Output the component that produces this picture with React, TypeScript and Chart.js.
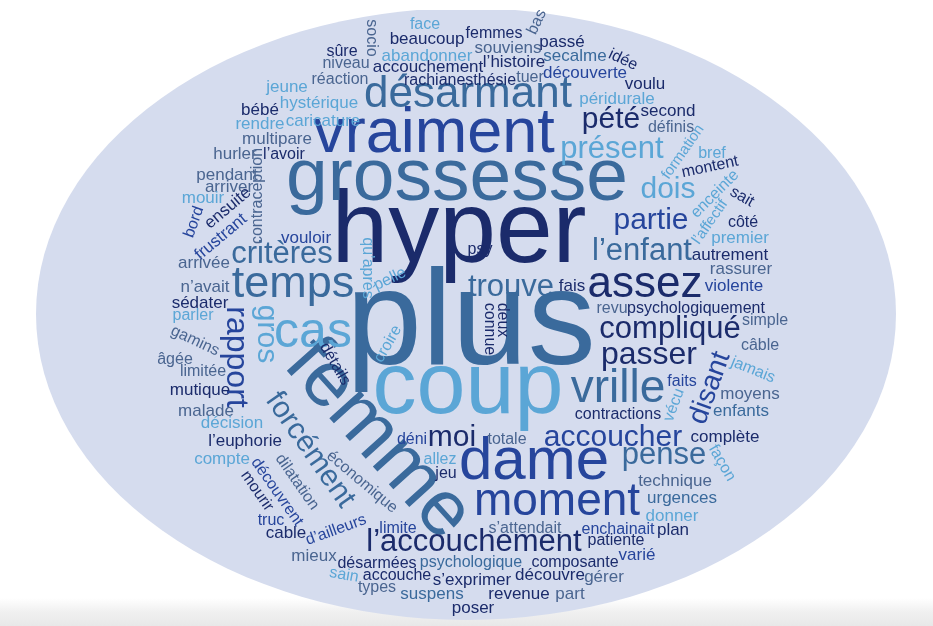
import { useEffect, useRef } from 'react';
import { Chart, registerables } from 'chart.js';

Chart.register(...registerables);

// ---- word cloud data ----
const words = [
  'hyper', 'plus', 'grossesse', 'coup', 'femme', 'vraiment', 'désarmant', 'dame', 'moment', 'temps',
  'assez', 'vrille', 'cas', 'l’accouchement', 'critères', 'trouve', 'l’enfant', 'partie', 'dois', 'présent',
  'pété', 'compliqué', 'passer', 'accoucher', 'pense', 'moi', 'rapport', 'gros', 'forcément', 'disant',
  'socio', 'sûre', 'niveau', 'accouchement', 'jeune', 'réaction', 'bébé', 'hystérique', 'rendre', 'caricature',
  'multipare', 'hurler', 'l’avoir', 'contraception', 'face', 'beaucoup', 'femmes', 'bas', 'abandonner', 'souviens',
  'passé', 'l’histoire', 'secalme', 'idée', 'découverte', 'tuer', 'rachianesthésie', 'voulu', 'péridurale', 'second',
  'définis', 'formation', 'bref', 'montent', 'enceinte', 'sait', 'l’affectif', 'côté', 'premier', 'autrement',
  'rassurer', 'violente', 'psychologiquement', 'revu', 'simple', 'câble', 'jamais', 'faits', 'moyens', 'vécu',
  'enfants', 'contractions', 'complète', 'façon', 'technique', 'urgences', 'donner', 'plan', 'enchainait', 'patiente',
  'varié', 'limite', 's’attendait', 'désarmées', 'psychologique', 'composante', 'accouche', 's’exprimer', 'découvre', 'gérer',
  'types', 'suspens', 'revenue', 'part', 'poser', 'allez', 'jeu', 'déni', 'totale', 'compte',
  'découvrent', 'mourir', 'dilatation', 'économique', 'truc', 'cable', 'd’ailleurs', 'mieux', 'sain', 'parler',
  'gamins', 'âgée', 'limitée', 'mutique', 'malade', 'décision', 'l’euphorie', 'détails', 'croire', 'connue',
  'deux', 'qu’après', 'pelle', 'psy', 'fais', 'pendant', 'arriver', 'mouir', 'ensuite', 'bord',
  'frustrant', 'vouloir', 'arrivée', 'n’avait', 'sédater',
];

const wordX = [
  459, 471, 457, 468, 378, 434, 468, 534, 557, 293,
  645, 618, 313, 474, 282, 511, 642, 651, 668, 612,
  611, 670, 649, 613, 664, 452, 236, 266, 310, 710,
  371, 342, 346, 428, 287, 340, 260, 319, 260, 323,
  277, 235, 284, 258, 425, 427, 494, 537, 427, 508,
  562, 514, 575, 623, 585, 530, 460, 645, 617, 668,
  671, 683, 712, 710, 715, 742, 710, 743, 740, 730,
  741, 734, 696, 612, 765, 760, 753, 682, 750, 674,
  741, 618, 725, 722, 675, 682, 672, 673, 618, 616,
  637, 398, 525, 377, 471, 575, 397, 472, 550, 604,
  377, 432, 519, 570, 473, 440, 446, 412, 507, 222,
  277, 257, 297, 362, 271, 286, 336, 314, 344, 193,
  195, 175, 203, 200, 206, 232, 245, 335, 388, 489,
  502, 367, 390, 480, 572, 227, 229, 203, 228, 194,
  221, 306, 204, 205, 200,
];

const wordY = [
  234, 326, 179, 389, 440, 135, 95, 462, 502, 285,
  285, 389, 333, 542, 254, 287, 251, 221, 190, 149,
  120, 329, 355, 438, 455, 438, 357, 334, 450, 388,
  38, 52, 64, 67, 87, 80, 110, 103, 124, 121,
  139, 154, 155, 196, 25, 39, 34, 22, 56, 48,
  42, 62, 56, 60, 73, 78, 81, 84, 99, 111,
  128, 152, 154, 167, 194, 197, 222, 223, 238, 255,
  269, 286, 309, 309, 321, 346, 370, 382, 394, 405,
  411, 415, 437, 463, 481, 498, 516, 530, 530, 541,
  555, 529, 529, 564, 563, 563, 576, 580, 575, 577,
  588, 594, 594, 594, 608, 460, 474, 440, 440, 459,
  492, 491, 482, 482, 521, 533, 530, 556, 575, 316,
  341, 360, 372, 390, 411, 423, 441, 364, 344, 329,
  320, 268, 279, 250, 286, 175, 187, 198, 208, 222,
  237, 238, 263, 287, 303,
];

// relative weight of each word (rendered as font size in px)
const wordWeight = [
  102, 136, 75, 88, 78, 63, 44, 60, 46, 45,
  44, 46, 50, 31, 31, 31, 31, 30, 30, 31,
  30, 31, 32, 30, 31, 30, 32, 30, 30, 28,
  16, 16, 16, 17, 17, 16, 17, 17, 17, 17,
  17, 17, 16, 16, 16, 17, 16, 16, 17, 17,
  17, 17, 17, 16, 17, 16, 16, 17, 17, 17,
  16, 15, 16, 16, 16, 16, 15, 16, 17, 17,
  17, 17, 16, 16, 16, 16, 16, 16, 17, 16,
  17, 16, 17, 16, 17, 17, 17, 17, 16, 16,
  17, 16, 16, 16, 16, 16, 16, 17, 17, 17,
  16, 17, 17, 17, 17, 16, 16, 16, 16, 17,
  16, 16, 16, 16, 16, 17, 16, 17, 16, 16,
  16, 16, 16, 17, 17, 17, 17, 16, 16, 16,
  16, 16, 16, 16, 17, 17, 17, 17, 17, 16,
  17, 17, 17, 17, 17,
];

// orientation of each word in degrees
const wordAngle = [
  0, 0, 0, 0, 48, 0, 0, 0, 0, 0,
  0, 0, 0, 0, 0, 0, 0, 0, 0, 0,
  0, 0, 0, 0, 0, 0, 90, 90, 55, -70,
  90, 0, 0, 0, 0, 0, 0, 0, 0, 0,
  0, 0, 0, -90, 0, 0, 0, -65, 0, 0,
  0, 0, 0, 25, 0, 0, 0, 0, 0, 0,
  0, -55, 0, -12, -45, 30, -55, 0, 0, 0,
  0, 0, 0, 0, 0, 0, 22, 0, 0, -70,
  0, 0, 0, 60, 0, 0, 0, 0, 0, 0,
  0, 0, 0, 0, 0, 0, 0, 0, 0, 0,
  0, 0, 0, 0, 0, 0, 0, 0, 0, 0,
  55, 55, 55, 40, 0, 0, -20, 0, 10, 0,
  25, 0, 0, 0, 0, 0, 0, 60, -60, 90,
  90, 90, -25, 0, 0, 0, 0, 0, -40, -70,
  -40, 0, 0, 0, 0,
];

// colour group of each word (index into palette)
const wordTone = [
  0, 2, 2, 3, 2, 1, 2, 1, 1, 2,
  0, 2, 3, 0, 2, 2, 2, 1, 3, 3,
  0, 0, 0, 1, 2, 0, 1, 3, 2, 1,
  4, 0, 4, 0, 3, 4, 0, 3, 3, 3,
  4, 4, 0, 4, 3, 0, 0, 4, 3, 4,
  0, 0, 2, 0, 1, 4, 0, 0, 3, 0,
  4, 3, 3, 0, 3, 0, 3, 0, 3, 0,
  4, 1, 0, 4, 4, 4, 3, 1, 4, 3,
  2, 0, 0, 3, 4, 2, 3, 0, 1, 0,
  1, 1, 4, 0, 2, 0, 0, 0, 0, 4,
  4, 2, 0, 4, 0, 3, 0, 1, 4, 3,
  1, 0, 4, 4, 1, 0, 1, 4, 3, 3,
  4, 4, 4, 0, 4, 3, 0, 0, 3, 0,
  0, 3, 3, 0, 0, 4, 4, 3, 0, 1,
  1, 1, 4, 4, 0,
];

const palette = ['#1b2b6b', '#26459c', '#3a6a9c', '#5ba6d6', '#4a6590'];

// the oval backdrop (in data units)
const cloudCenter = [466, 314];
const cloudRadii = [430, 306];
const topCut = 10;
const bandTop = 598;

const FONT = '"Liberation Sans", Arial, Helvetica, sans-serif';

const cloudPlugin = {
  id: 'wordcloud',
  beforeDatasetsDraw(chart: any) {
    const { ctx, scales } = chart;
    const xs = scales.x;
    const ys = scales.y;
    const W = chart.width;
    const H = chart.height;
    ctx.save();
    ctx.fillStyle = '#ffffff';
    ctx.fillRect(0, 0, W, H);
    const by = ys.getPixelForValue(bandTop);
    const g = ctx.createLinearGradient(0, by, 0, H);
    g.addColorStop(0, '#ffffff');
    g.addColorStop(0.5, '#f0f0f0');
    g.addColorStop(1, '#e8e8e8');
    ctx.fillStyle = g;
    ctx.fillRect(0, by, W, H - by);

    const cx = xs.getPixelForValue(cloudCenter[0]);
    const cy = ys.getPixelForValue(cloudCenter[1]);
    const rx = Math.abs(xs.getPixelForValue(cloudCenter[0] + cloudRadii[0]) - cx);
    const ry = Math.abs(ys.getPixelForValue(cloudCenter[1] + cloudRadii[1]) - cy);
    const cutY = ys.getPixelForValue(topCut);
    ctx.beginPath();
    ctx.rect(0, cutY, W, H - cutY);
    ctx.clip();
    ctx.beginPath();
    ctx.ellipse(cx, cy, rx, ry, 0, 0, Math.PI * 2);
    ctx.fillStyle = '#d5dcee';
    ctx.fill();
    ctx.restore();
  },
  afterDatasetsDraw(chart: any) {
    const { ctx } = chart;
    const meta = chart.getDatasetMeta(0);
    ctx.save();
    ctx.textAlign = 'center';
    ctx.textBaseline = 'middle';
    meta.data.forEach((pt: any, i: number) => {
      ctx.save();
      ctx.translate(pt.x, pt.y);
      ctx.rotate((wordAngle[i] * Math.PI) / 180);
      ctx.font = `${wordWeight[i]}px ${FONT}`;
      ctx.fillStyle = palette[wordTone[i]];
      ctx.fillText(words[i], 0, 0);
      ctx.restore();
    });
    ctx.restore();
  },
};

export default function App() {
  const ref = useRef<HTMLCanvasElement | null>(null);
  useEffect(() => {
    document.body.style.margin = '0';
    const canvas = ref.current;
    if (!canvas) return;
    const chart = new Chart(canvas, {
      type: 'scatter',
      data: {
        datasets: [
          {
            label: 'words',
            data: words.map((_, i) => ({ x: wordX[i], y: wordY[i] })),
            pointRadius: 0,
            pointHoverRadius: 0,
          },
        ],
      },
      options: {
        animation: false,
        responsive: false,
        events: [],
        layout: { padding: 0 },
        plugins: { legend: { display: false }, tooltip: { enabled: false } },
        scales: {
          x: { type: 'linear', min: 0, max: 933, display: false },
          y: { type: 'linear', min: 0, max: 626, reverse: true, display: false },
        },
      },
      plugins: [cloudPlugin],
    });
    return () => chart.destroy();
  }, []);
  return (
    <div style={{ width: 933, height: 626 }}>
      <canvas ref={ref} width={933} height={626} style={{ display: 'block' }} />
    </div>
  );
}
